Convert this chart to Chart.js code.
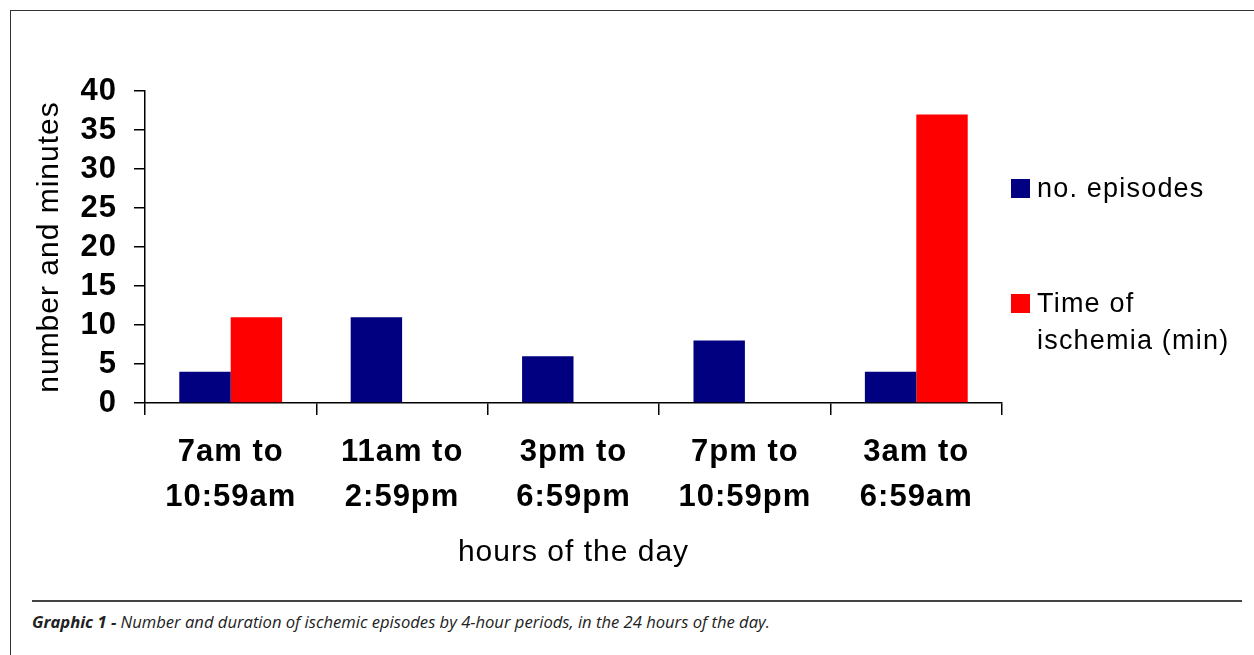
<!DOCTYPE html>
<html>
<head>
<meta charset="utf-8">
<script src="https://cdn.jsdelivr.net/npm/chart.js@4"></script>
<style>
    html, body { margin: 0; padding: 0; background: #fff; }
    body { width: 1254px; height: 655px; position: relative; overflow: hidden; }
    .cadre { position: absolute; left: 10px; top: 10px; right: -5px; bottom: -5px; border-left: 1.5px solid #333; border-top: 1.5px solid #333; }
    #graph { position: absolute; left: 0; top: 0; }
    .legende { position: absolute; left: 1011px; font-family: "Liberation Sans", Arial, sans-serif; font-size: 27px; letter-spacing: 1.2px; color: #000; line-height: 37px; }
    .legende .carre { position: absolute; left: 0; width: 19px; height: 19px; }
    .legende .texte { position: absolute; left: 26px; white-space: nowrap; }
    .trait { position: absolute; left: 32px; top: 600px; width: 1210px; height: 2px; background: #444; }
    .legende-fig { position: absolute; left: 32px; top: 610px; font-family: "Open Sans", sans-serif; font-style: italic; font-size: 16.6px; color: #222; white-space: nowrap; }
    .legende-fig b { font-weight: 700; }
</style>
</head>
<body>
<div class="cadre"></div>
<canvas id="graph" width="1254" height="590"></canvas>
<div id="legende"></div>
<div class="trait"></div>
<div class="legende-fig"><b>Graphic 1 -</b> Number and duration of ischemic episodes by 4-hour periods, in the 24 hours of the day.</div>
<script>
// Périodes de 4 heures
const periodes = [
    ['7am to', '10:59am'],
    ['11am to', '2:59pm'],
    ['3pm to', '6:59pm'],
    ['7pm to', '10:59pm'],
    ['3am to', '6:59am']
];
const nbEpisodes = [4, 11, 6, 8, 4];
const tempsIschemie = [11, 0, 0, 0, 37];
const nomsSeries = [['no. episodes'], ['Time of', 'ischemia (min)']];
const couleurs = ['#000080', '#ff0000'];
const ticksY = [0, 5, 10, 15, 20, 25, 30, 35, 40];

const police = '"Liberation Sans", Arial, sans-serif';

// espacement des lettres sur tout le canvas
const espacement = {
    id: 'espacement',
    beforeUpdate(chart) { chart.ctx.letterSpacing = '1px'; },
    beforeDraw(chart) { chart.ctx.letterSpacing = '1px'; }
};

const ctx = document.getElementById('graph').getContext('2d');
new Chart(ctx, {
    type: 'bar',
    data: {
        labels: periodes,
        datasets: [
            { label: nomsSeries[0].join(' '), data: nbEpisodes, backgroundColor: couleurs[0] },
            { label: nomsSeries[1].join(' '), data: tempsIschemie, backgroundColor: couleurs[1] }
        ]
    },
    options: {
        responsive: false,
        animation: false,
        events: [],
        layout: { padding: { left: 20, top: 91, right: 252, bottom: 0 } },
        datasets: { bar: { categoryPercentage: 0.6, barPercentage: 1.0 } },
        plugins: { legend: { display: false }, tooltip: { enabled: false } },
        scales: {
            x: {
                grid: { drawOnChartArea: false, drawTicks: true, tickLength: 12, color: '#000', lineWidth: 1.5 },
                border: { display: true, color: '#000', width: 1.5 },
                ticks: {
                    color: '#000',
                    padding: 15,
                    maxRotation: 0,
                    autoSkip: false,
                    font: { family: police, size: 31, weight: 'bold', lineHeight: 1.45 }
                },
                title: {
                    display: true,
                    text: 'hours of the day',
                    color: '#000',
                    padding: { top: 0, bottom: 19 },
                    font: { family: police, size: 30, lineHeight: 1.2 }
                },
                afterFit(scale) { scale.height = 187; }
            },
            y: {
                min: 0,
                max: 40,
                afterBuildTicks(scale) { scale.ticks = ticksY.map(v => ({ value: v })); },
                grid: { drawOnChartArea: false, drawTicks: true, tickLength: 11, color: '#000', lineWidth: 1.5 },
                border: { display: true, color: '#000', width: 1.5 },
                ticks: {
                    color: '#000',
                    padding: 17,
                    autoSkip: false,
                    font: { family: police, size: 31, weight: 'bold', lineHeight: 1 }
                },
                title: {
                    display: true,
                    text: 'number and minutes',
                    color: '#000',
                    padding: { top: 12, bottom: 0 },
                    font: { family: police, size: 30, lineHeight: 1.2 }
                },
                afterFit(scale) { scale.width = 125; }
            }
        }
    },
    plugins: [espacement]
});

// Légende à droite du graphique
const legende = document.getElementById('legende');
const positionsLegende = [179, 294];
nomsSeries.forEach((lignes, i) => {
    const bloc = document.createElement('div');
    bloc.className = 'legende';
    bloc.style.top = positionsLegende[i] + 'px';
    bloc.innerHTML = `<div class="carre" style="background:${couleurs[i]};top:0"></div>` +
        `<div class="texte" style="top:-9px">${lignes.join('<br>')}</div>`;
    legende.appendChild(bloc);
});
</script>
</body>
</html>
